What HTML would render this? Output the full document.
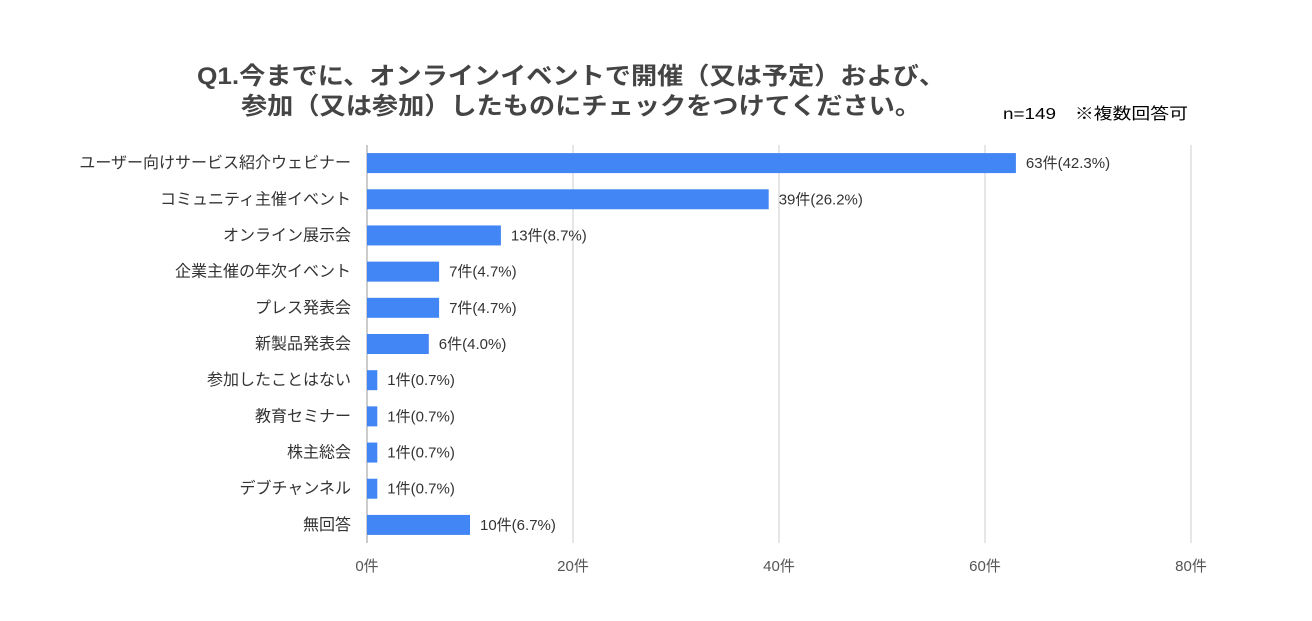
<!DOCTYPE html>
<html><head><meta charset="utf-8"><style>
body{margin:0;background:#fff;}
svg{display:block;font-family:"Liberation Sans","Noto Sans CJK JP",sans-serif;}
</style></head><body>
<svg id="chart" width="1312" height="621" viewBox="0 0 1312 621">
<text x="197" y="84" font-size="24" font-weight="bold" fill="#444" textLength="748" lengthAdjust="spacingAndGlyphs">Q1.今までに、オンラインイベントで開催（又は予定）および、</text>
<text x="241" y="114" font-size="24" font-weight="bold" fill="#444" textLength="680" lengthAdjust="spacingAndGlyphs">参加（又は参加）したものにチェックをつけてください。</text>
<text x="1003" y="119" font-size="16" fill="#000" textLength="185" lengthAdjust="spacingAndGlyphs">n=149　※複数回答可</text>
<g id="grid"></g><g id="bars"></g>
</svg>
<script>
const categories=["ユーザー向けサービス紹介ウェビナー","コミュニティ主催イベント","オンライン展示会","企業主催の年次イベント","プレス発表会","新製品発表会","参加したことはない","教育セミナー","株主総会","デブチャンネル","無回答"];
const values=[63,39,13,7,7,6,1,1,1,1,10];
const valueLabels=["63件(42.3%)","39件(26.2%)","13件(8.7%)","7件(4.7%)","7件(4.7%)","6件(4.0%)","1件(0.7%)","1件(0.7%)","1件(0.7%)","1件(0.7%)","10件(6.7%)"];
const ticks=[0,20,40,60,80];
const tickLabels=["0件","20件","40件","60件","80件"];
const NS="http://www.w3.org/2000/svg";
const x0=367,x1=1191,xmax=80,yTop=145,yBot=543;
const xs=v=>x0+(x1-x0)*v/xmax;
const band=(yBot-yTop)/categories.length;
const yc=i=>yTop+band*(i+0.5);
function mk(t,a,p){const e=document.createElementNS(NS,t);for(const k in a)e.setAttribute(k,a[k]);p.appendChild(e);return e;}
const g=document.getElementById('grid'),b=document.getElementById('bars');
ticks.forEach((t,i)=>{
 const l=mk('line',{x1:xs(t),x2:xs(t),y1:yTop,y2:yBot,stroke:t===0?'#999':'#ccc','stroke-width':1},g);
 
 
 const tx=mk('text',{x:xs(t),y:571,'font-size':15,fill:'#555','text-anchor':'middle'},g);
 tx.textContent=tickLabels[i];
 
 
});
categories.forEach((c,i)=>{
 const y=yc(i);
 const r=mk('rect',{x:x0,y:y-10,width:xs(values[i])-x0,height:20,fill:'#4285f4'},b);
 
 
 const lab=mk('text',{x:351,y:y+5,'font-size':16,fill:'#333','text-anchor':'end'},b);
 lab.textContent=c;
 
 
 const v=mk('text',{x:xs(values[i])+10,y:y+5,'font-size':15,fill:'#333'},b);
 v.textContent=valueLabels[i];
 
 
});
</script>
</body></html>
